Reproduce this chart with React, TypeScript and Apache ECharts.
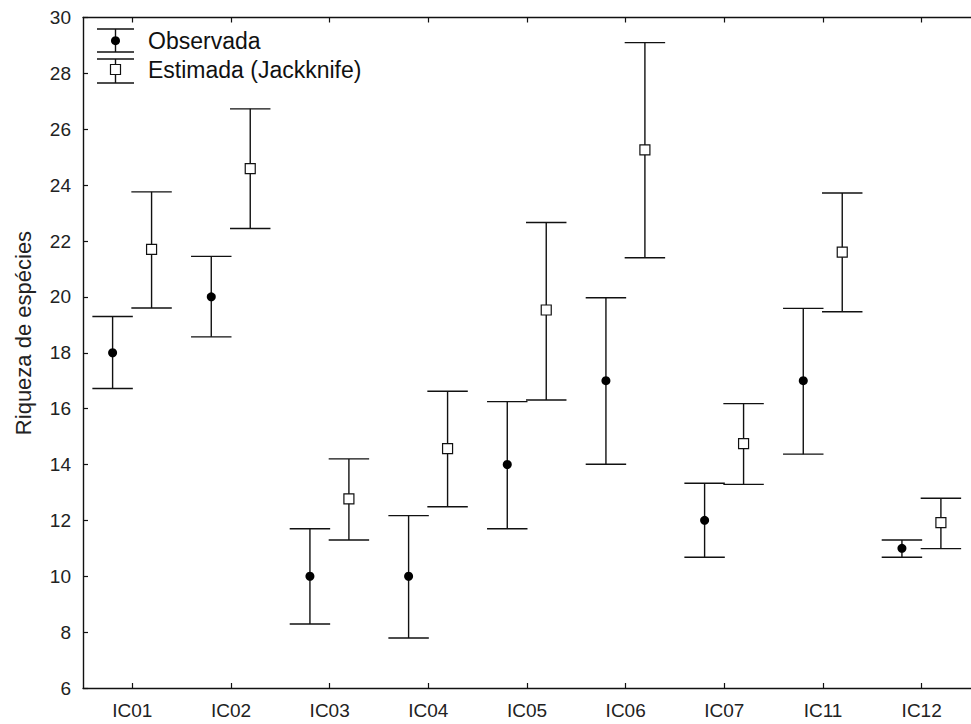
import React, { useEffect, useRef } from "react";
import * as echarts from "echarts";

const categories = ["IC01", "IC02", "IC03", "IC04", "IC05", "IC06", "IC07", "IC11", "IC12"];
const obsMean = [18, 20, 10, 10, 14, 17, 12, 17, 11];
const obsLow = [16.72, 18.57, 8.29, 7.79, 11.7, 14.01, 10.68, 14.37, 10.68];
const obsHigh = [19.3, 21.45, 11.7, 12.17, 16.25, 19.97, 13.33, 19.59, 11.3];
const estMean = [21.7, 24.59, 12.77, 14.57, 19.53, 25.26, 14.75, 21.6, 11.92];
const estLow = [19.6, 22.45, 11.3, 12.49, 16.31, 21.4, 13.29, 19.47, 10.99];
const estHigh = [23.76, 26.73, 14.2, 16.62, 22.66, 29.1, 16.18, 23.72, 12.79];
const yTicks = { min: 6, max: 30, interval: 2 };

const FONT = "'Liberation Sans', Arial, sans-serif";
const INK = "#111";

function makeRender(offFrac: number, marker: "circle" | "square") {
  return (params: any, api: any) => {
    const idx = api.value(0);
    const low = api.value(1);
    const mid = api.value(2);
    const high = api.value(3);
    const band = api.size([1, 0])[0];
    const off = band * offFrac;
    const pLow = api.coord([idx, low]);
    const pHigh = api.coord([idx, high]);
    const pMid = api.coord([idx, mid]);
    const x = pMid[0] + off;
    const hw = band * 0.205;
    const ls = { stroke: INK, lineWidth: 1.4 };
    const children: any[] = [
      { type: "line", shape: { x1: x, y1: pHigh[1], x2: x, y2: pLow[1] }, style: ls },
      { type: "line", shape: { x1: x - hw, y1: pHigh[1], x2: x + hw, y2: pHigh[1] }, style: ls },
      { type: "line", shape: { x1: x - hw, y1: pLow[1], x2: x + hw, y2: pLow[1] }, style: ls },
    ];
    if (marker === "circle") {
      children.push({ type: "circle", shape: { cx: x, cy: pMid[1], r: 4.5 }, style: { fill: "#000" } });
    } else {
      children.push({
        type: "rect",
        shape: { x: x - 5, y: pMid[1] - 5, width: 10, height: 10 },
        style: { fill: "#fff", stroke: INK, lineWidth: 1.2 },
      });
    }
    return { type: "group", children };
  };
}

function legendItem(yTop: number, yMid: number, yBot: number, marker: "circle" | "square", label: string) {
  const x = 115.5;
  const ls = { stroke: INK, lineWidth: 1.4 };
  const els: any[] = [
    { type: "line", shape: { x1: x, y1: yTop, x2: x, y2: yBot }, style: ls },
    { type: "line", shape: { x1: 97, y1: yTop, x2: 134, y2: yTop }, style: ls },
    { type: "line", shape: { x1: 97, y1: yBot, x2: 134, y2: yBot }, style: ls },
  ];
  if (marker === "circle") {
    els.push({ type: "circle", shape: { cx: x, cy: yMid, r: 4.5 }, style: { fill: "#000" } });
  } else {
    els.push({
      type: "rect",
      shape: { x: x - 5, y: yMid - 5, width: 10, height: 10 },
      style: { fill: "#fff", stroke: INK, lineWidth: 1.2 },
    });
  }
  els.push({
    type: "text",
    x: 148,
    y: yMid,
    style: { text: label, fontSize: 23, fontFamily: FONT, fill: "#111", textAlign: "left", textVerticalAlign: "middle" },
  });
  return els;
}

export default function App() {
  const ref = useRef<HTMLDivElement>(null);
  useEffect(() => {
    if (!ref.current) return;
    const chart = echarts.init(ref.current, undefined, { renderer: "svg" });
    const obsData = categories.map((_, i) => [i, obsLow[i], obsMean[i], obsHigh[i]]);
    const estData = categories.map((_, i) => [i, estLow[i], estMean[i], estHigh[i]]);
    const axisLine = { show: true, lineStyle: { color: INK, width: 1.4 } };
    const axisTick = { show: true, inside: true, length: 5, lineStyle: { color: INK, width: 1.2 } };
    chart.setOption({
      animation: false,
      backgroundColor: "#fff",
      grid: { left: 83, top: 17.5, bottom: 36, right: -7.5, containLabel: false },
      xAxis: [
        {
          type: "category",
          data: categories,
          position: "bottom",
          boundaryGap: true,
          axisLine,
          axisTick: { ...axisTick, alignWithLabel: true },
          splitLine: { show: false },
          axisLabel: { fontSize: 19, fontFamily: FONT, color: "#222", margin: 13 },
        },
        {
          type: "category",
          data: categories,
          position: "top",
          boundaryGap: true,
          axisLine,
          axisTick: { ...axisTick, alignWithLabel: true },
          splitLine: { show: false },
          axisLabel: { show: false },
        },
      ],
      yAxis: {
        type: "value",
        min: yTicks.min,
        max: yTicks.max,
        interval: yTicks.interval,
        axisLine,
        axisTick,
        splitLine: { show: false },
        axisLabel: { fontSize: 19, fontFamily: FONT, color: "#222", margin: 12 },
      },
      graphic: [
        {
          type: "text",
          x: 23,
          y: 333,
          rotation: Math.PI / 2,
          style: {
            text: "Riqueza de espécies",
            fontSize: 22,
            fontFamily: FONT,
            fill: "#222",
            textAlign: "center",
            textVerticalAlign: "middle",
          },
        },
        ...legendItem(29, 40.7, 52, "circle", "Observada"),
        ...legendItem(59, 69.5, 83, "square", "Estimada (Jackknife)"),
      ],
      series: [
        {
          type: "custom",
          name: "Observada",
          renderItem: makeRender(-0.2, "circle"),
          data: obsData,
          encode: { x: 0, y: [1, 2, 3] },
          clip: false,
        },
        {
          type: "custom",
          name: "Estimada (Jackknife)",
          renderItem: makeRender(0.195, "square"),
          data: estData,
          encode: { x: 0, y: [1, 2, 3] },
          clip: false,
        },
      ],
    });
    return () => chart.dispose();
  }, []);
  return <div ref={ref} style={{ position: "fixed", left: 0, top: 0, width: 971, height: 724 }} />;
}
